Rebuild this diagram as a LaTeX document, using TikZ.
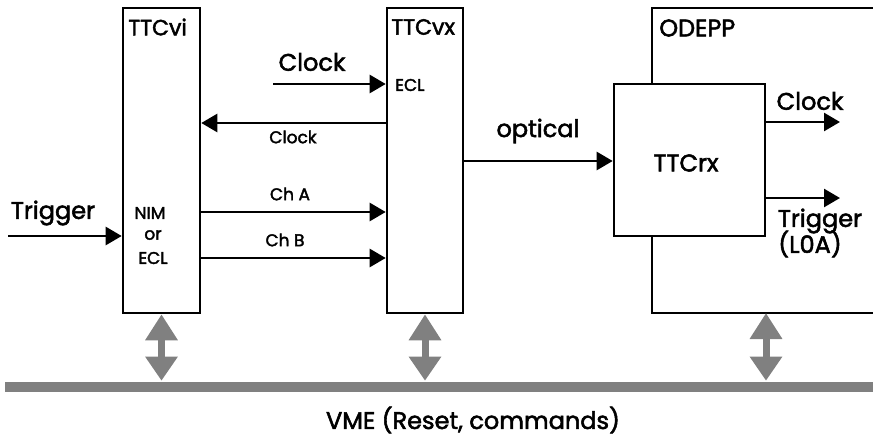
\documentclass[tikz,border=0pt]{standalone}
\usepackage{fontspec}
\setmainfont{Poppins}[FakeBold=2.2]
\usetikzlibrary{arrows.meta}
\begin{document}
\begin{tikzpicture}[x=1pt,y=-1pt, line width=2.6pt,
  sig/.style={-{Triangle[length=16pt,width=18pt]}},
  vmearrow/.style={draw=gray, line width=7pt, {Triangle[length=26pt,width=31pt]}-{Triangle[length=24pt,width=31pt]}},
  big/.style={font=\fontsize{24}{27}\selectfont, inner sep=0pt},
  title/.style={font=\fontsize{22}{25}\selectfont, inner sep=0pt},
  small/.style={font=\fontsize{17}{19}\selectfont, inner sep=0pt},
  box/.style={draw, fill=white, inner sep=0pt}]
\useasboundingbox (0,0) rectangle (873,444);
% bus
\node[fill=gray, minimum width=868pt, minimum height=10pt, inner sep=0pt] (bus) at (439,387) {};
% ODEPP open box
\coordinate (odtr) at (873,8);
\coordinate (odtl) at (652,8);
\coordinate (odbl) at (652,313);
\coordinate (odbr) at (873,313);
\draw (odtr) -- (odtl) -- (odbl) -- (odbr);
% boxes
\node[box, minimum width=77pt, minimum height=305pt] (vi) at (161.5,160.5) {};
\node[box, minimum width=76pt, minimum height=305pt] (vx) at (425,160.5) {};
\node[box, minimum width=151pt, minimum height=152pt] (rx) at (689.5,160) {};
% titles
\node[title, anchor=west] (tvi) at (127,27) {TTCvi};
\node[title, anchor=west] (tvx) at (390,27) {TTCvx};
\node[big, anchor=west] (tod) at (658,28) {ODEPP};
\node[big] (trx) at (686,163) {TTCrx};
% TTCvx clock in
\coordinate (clkin) at (273,84);
\draw[sig] (clkin) -- (vx.west |- clkin);
\node[big] (lclkin) at (312,62) {Clock};
\node[small, anchor=west] (ecl1) at (394,85) {ECL};
% clock back
\coordinate (cb) at (0,123);
\draw[sig] (vx.west |- cb) -- (vi.east |- cb);
\node[small] (lcb) at (293,137) {Clock};
% Ch A, Ch B
\coordinate (cha) at (0,212);
\coordinate (chb) at (0,258);
\draw[sig] (vi.east |- cha) -- (vx.west |- cha);
\draw[sig] (vi.east |- chb) -- (vx.west |- chb);
\node[small] (lcha) at (290,194) {Ch A};
\node[small] (lchb) at (285,240) {Ch B};
% trigger in
\coordinate (trin) at (8,236);
\draw[sig] (trin) -- (vi.west |- trin);
\node[big] (ltrin) at (53,213) {Trigger};
\node[small] (nim) at (150,213) {NIM};
\node[small] (or) at (153,235) {or};
\node[small] (ecl2) at (153,258) {ECL};
% optical
\coordinate (opt) at (0,161);
\draw[sig] (vx.east |- opt) -- (rx.west |- opt);
\node[big] (lopt) at (538,131) {optical};
% outputs
\coordinate (clkout) at (840,122);
\coordinate (trout) at (840,198);
\draw[sig] (rx.east |- clkout) -- (clkout);
\draw[sig] (rx.east |- trout) -- (trout);
\node[big] (lclkout) at (810,101) {Clock};
\node[big] (ltrout) at (820,221) {Trigger};
\node[big] (ll0a) at (810,244) {(L0A)};
% VME arrows
\draw[vmearrow] (vi.south) -- (vi.south |- bus.north);
\draw[vmearrow] (vx.south) -- (vx.south |- bus.north);
\coordinate (odb) at (766,313);
\draw[vmearrow] (odb) -- (odb |- bus.north);
\node[big] (lvme) at (473,420) {VME (Reset, commands)};
\end{tikzpicture}
\end{document}
